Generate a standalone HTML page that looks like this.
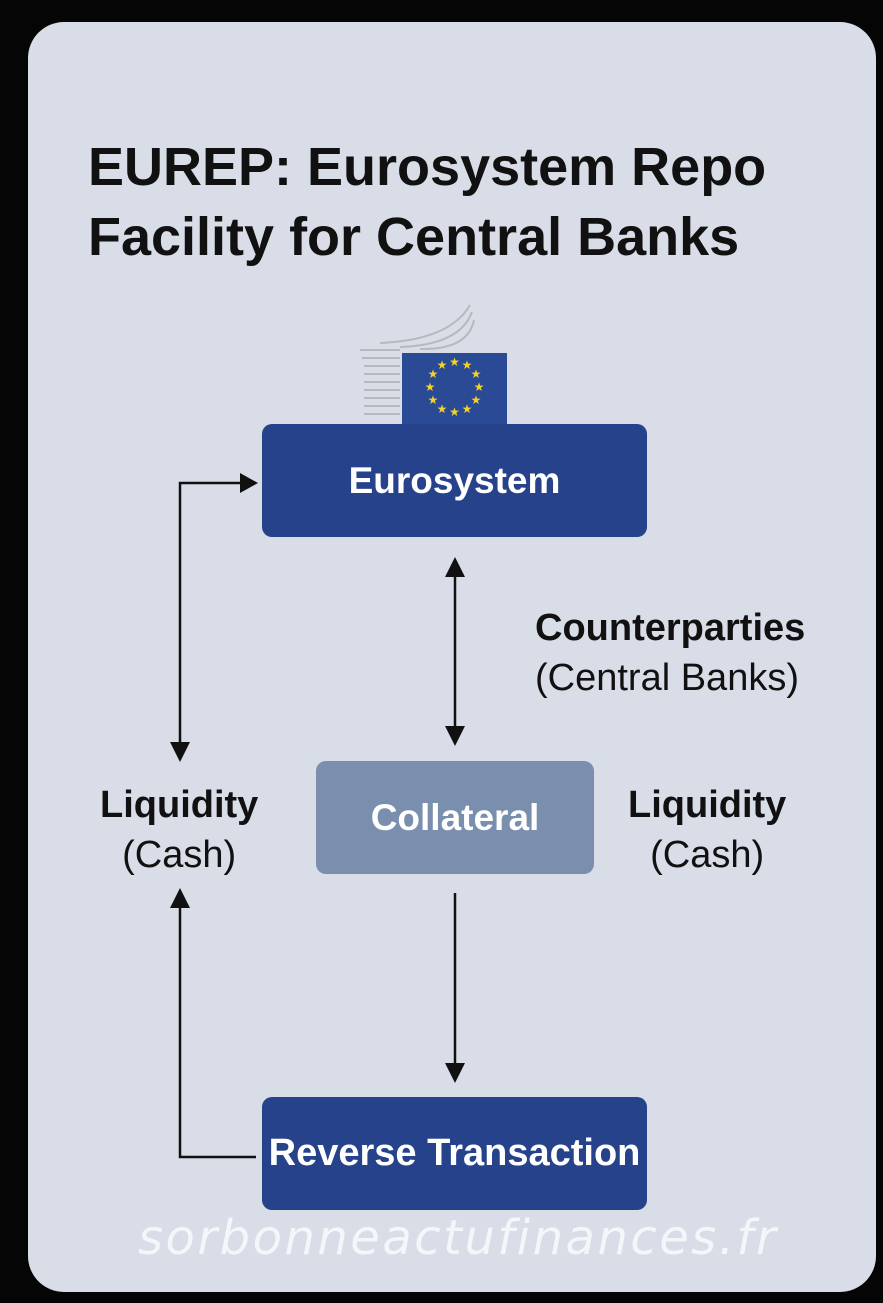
<!DOCTYPE html>
<html><head><style>
body{margin:0;width:883px;height:1303px;background:#050505;position:relative;overflow:hidden;font-family:"Liberation Sans",sans-serif}
.card{position:absolute;left:28px;top:22px;width:848px;height:1270px;background:#d8dde7;border-radius:36px}
.t{position:absolute;color:#111;white-space:nowrap}
.box{position:absolute;color:#fff;font-weight:bold;font-size:37px;display:flex;align-items:center;justify-content:center;border-radius:10px}
</style></head><body>
<div class="card"></div>
<div class="t" style="left:88px;top:132px;font-size:54px;font-weight:bold;line-height:70px">EUREP: Eurosystem Repo<br>Facility for Central Banks</div>
<svg style="position:absolute;left:0;top:0" width="883" height="1303">
<g stroke="#aaa" stroke-width="2" fill="none" opacity="0.7">
<path d="M360 350 H400"/><path d="M362 358 H400"/><path d="M364 366 H400"/><path d="M364 374 H400"/><path d="M364 382 H400"/><path d="M364 390 H400"/><path d="M364 398 H400"/><path d="M364 406 H400"/><path d="M364 414 H400"/>
<path d="M380 343 Q450 340 470 305"/><path d="M400 347 Q460 345 472 312"/><path d="M420 349 Q468 350 474 320"/>
</g>
<rect x="402" y="353" width="105" height="72" fill="#2a4a96"/>
<g fill="#f2d32a" font-size="12" text-anchor="middle">
<text x="454.5" y="366">★</text><text x="467" y="369">★</text><text x="476" y="378">★</text><text x="479" y="391">★</text><text x="476" y="404">★</text><text x="467" y="413">★</text><text x="454.5" y="416">★</text><text x="442" y="413">★</text><text x="433" y="404">★</text><text x="430" y="391">★</text><text x="433" y="378">★</text><text x="442" y="369">★</text>
</g>
<g stroke="#111" stroke-width="2.5" fill="none">
<path d="M246 483 H180 V745"/>
<path d="M256 1157 H180 V905"/>
<path d="M455 575 V728"/>
<path d="M455 893 V1065"/>
</g>
<g fill="#111">
<path d="M258 483 l-18 -10 v20z"/>
<path d="M180 762 l-10 -20 h20z"/>
<path d="M180 888 l-10 20 h20z"/>
<path d="M455 557 l-10 20 h20z"/>
<path d="M455 746 l-10 -20 h20z"/>
<path d="M455 1083 l-10 -20 h20z"/>
</g>
</svg>
<div class="box" style="left:262px;top:424px;width:385px;height:113px;background:#25428b">Eurosystem</div>
<div class="box" style="left:316px;top:761px;width:278px;height:113px;background:#7a8eae">Collateral</div>
<div class="box" style="left:262px;top:1097px;width:385px;height:113px;background:#25428b;font-size:38px">Reverse Transaction</div>
<div class="t" style="left:535px;top:603px;font-size:38px;line-height:50px"><b>Counterparties</b><br>(Central Banks)</div>
<div class="t" style="left:100px;top:780px;font-size:38px;line-height:50px;text-align:center"><b>Liquidity</b><br>(Cash)</div>
<div class="t" style="left:628px;top:780px;font-size:38px;line-height:50px;text-align:center"><b>Liquidity</b><br>(Cash)</div>
<div class="t" style="left:138px;top:1210px;font-size:48px;color:#f4f6fa;font-family:'DejaVu Sans',sans-serif;font-style:italic;letter-spacing:2.5px">sorbonneactufinances.fr</div>
</body></html>
